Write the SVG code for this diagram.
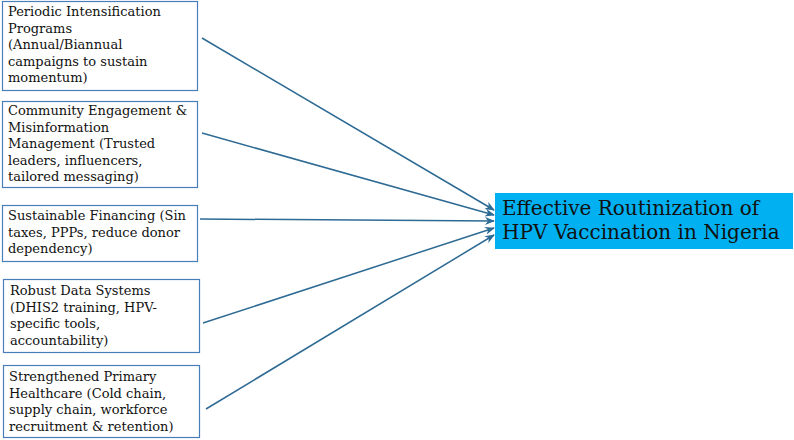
<svg xmlns="http://www.w3.org/2000/svg" width="794" height="440" viewBox="0 0 794 440">
<style>
.box{fill:#fff;stroke:#4a7ebb;stroke-width:1.2}
.t{font-family:"DejaVu Serif","Liberation Serif",serif;font-size:13px;fill:#111}
.tt{font-family:"DejaVu Serif","Liberation Serif",serif;font-size:20px;fill:#111}
.c{stroke:#2d6a94;stroke-width:1.5;fill:none;marker-end:url(#ah)}
</style>
<defs>
<marker id="ah" markerWidth="10" markerHeight="8" refX="9" refY="4" orient="auto" markerUnits="userSpaceOnUse">
<path d="M0,0 L10,4 L0,8 L3,4 Z" fill="#2d6a94"/>
</marker>
</defs>
<g id="connectors">
<line class="c" x1="202" y1="38" x2="494" y2="210"/>
<line class="c" x1="202" y1="133" x2="494" y2="215"/>
<line class="c" x1="200" y1="219" x2="494" y2="221"/>
<line class="c" x1="203" y1="323" x2="494" y2="228"/>
<line class="c" x1="206" y1="409" x2="494" y2="235"/>
</g>
<g id="n1">
<rect class="box" x="2.5" y="1.5" width="195" height="89"/>
<text class="t"><tspan x="8" y="16">Periodic Intensification</tspan><tspan x="8" y="32.5">Programs</tspan><tspan x="8" y="49">(Annual/Biannual</tspan><tspan x="8" y="65.5">campaigns to sustain</tspan><tspan x="8" y="82">momentum)</tspan></text>
</g>
<g id="n2">
<rect class="box" x="2.5" y="101.5" width="195" height="86"/>
<text class="t"><tspan x="8" y="115">Community Engagement &amp;</tspan><tspan x="8" y="131.5">Misinformation</tspan><tspan x="8" y="148">Management (Trusted</tspan><tspan x="8" y="164.5">leaders, influencers,</tspan><tspan x="8" y="181">tailored messaging)</tspan></text>
</g>
<g id="n3">
<rect class="box" x="2.5" y="205.5" width="195" height="56"/>
<text class="t"><tspan x="8" y="220">Sustainable Financing (Sin</tspan><tspan x="8" y="236.5">taxes, PPPs, reduce donor</tspan><tspan x="8" y="253">dependency)</tspan></text>
</g>
<g id="n4">
<rect class="box" x="3.5" y="279.5" width="196" height="73"/>
<text class="t"><tspan x="10" y="295">Robust Data Systems</tspan><tspan x="10" y="311.5">(DHIS2 training, HPV-</tspan><tspan x="10" y="328">specific tools,</tspan><tspan x="10" y="344.5">accountability)</tspan></text>
</g>
<g id="n5">
<rect class="box" x="3.5" y="365.5" width="196" height="72"/>
<text class="t"><tspan x="9" y="381">Strengthened Primary</tspan><tspan x="9" y="397.5">Healthcare (Cold chain,</tspan><tspan x="9" y="414">supply chain, workforce</tspan><tspan x="9" y="430.5">recruitment &amp; retention)</tspan></text>
</g>
<g id="target">
<rect x="495" y="193" width="298" height="56" fill="#00b0f0"/>
<text class="tt"><tspan x="502" y="215">Effective Routinization of</tspan><tspan x="502" y="239">HPV Vaccination in Nigeria</tspan></text>
</g>
</svg>
